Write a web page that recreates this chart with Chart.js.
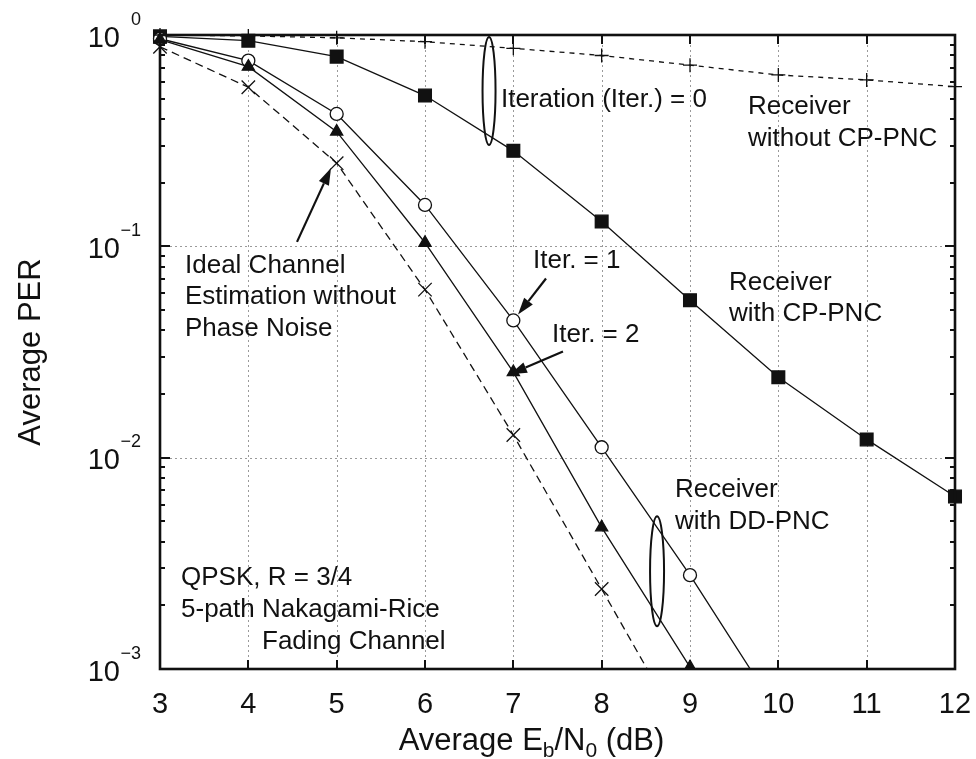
<!DOCTYPE html>
<html>
<head>
<meta charset="utf-8">
<title>Average PER vs Eb/N0</title>
<script src="https://cdn.jsdelivr.net/npm/chart.js@4.4.0/dist/chart.umd.min.js"></script>
<style>
  html, body { margin: 0; padding: 0; background: #ffffff; }
  canvas { display: block; }
</style>
</head>
<body>
<canvas id="chart" width="976" height="759"></canvas>
<script>
// Average Eb/N0 (dB)
const ebn0 = [3, 4, 5, 6, 7, 8, 9, 10, 11, 12];

// Average PER per receiver
const perWithoutCpPnc = [1.0, 0.99, 0.97, 0.93, 0.865, 0.80, 0.72, 0.647, 0.613, 0.57];
const perWithCpPnc    = [0.985, 0.94, 0.79, 0.517, 0.283, 0.131, 0.0556, 0.024, 0.0122, 0.00655];
const perDdIter1      = [0.96, 0.756, 0.423, 0.157, 0.0446, 0.0112, 0.00278, 0.00062];
const perDdIter2      = [0.95, 0.708, 0.349, 0.104, 0.0254, 0.00468, 0.00102];
const perIdeal        = [0.88, 0.566, 0.2475, 0.0624, 0.0128, 0.00239, 0.00044];

// Axis ticks
const xTickValues = [3, 4, 5, 6, 7, 8, 9, 10, 11, 12];
const yTickValues = [1, 0.1, 0.01, 0.001];
const yTickExponents = ['0', '\u22121', '\u22122', '\u22123'];

const FONT = "'Liberation Sans', Arial, Helvetica, sans-serif";

function toPoints(values) {
  return values.map((v, i) => ({ x: ebn0[i], y: v }));
}

// Callouts in data coordinates
const ellipses = [
  { x: 6.725, y: 0.544, rx: 6.5, ry: 54 },
  { x: 8.627, y: 0.0029, rx: 7, ry: 55 }
];
const arrows = [
  { from: [4.551, 0.105], to: [4.936, 0.235] },
  { from: [7.37, 0.0704], to: [7.053, 0.0476] },
  { from: [7.562, 0.0318], to: [6.962, 0.0248] }
];
const textBlocks = [
  { x: 6.86, y: 0.457, lines: ['Iteration (Iter.) = 0'] },
  { x: 9.657, y: 0.4233, lines: ['Receiver', 'without CP-PNC'] },
  { x: 9.442, y: 0.0624, lines: ['Receiver', 'with CP-PNC'] },
  { x: 8.83, y: 0.0065, lines: ['Receiver', 'with DD-PNC'] },
  { x: 7.223, y: 0.0793, lines: ['Iter. = 1'] },
  { x: 7.438, y: 0.0351, lines: ['Iter. = 2'] },
  { x: 3.283, y: 0.0751, lines: ['Ideal Channel', 'Estimation without', 'Phase Noise'] },
  { x: 3.238, y: 0.00249, lines: ['QPSK, R = 3/4', '5-path Nakagami-Rice'] },
  { x: 4.155, y: 0.00249, lines: ['', '', 'Fading Channel'] }
];

const framePlugin = {
  id: 'frame',
  beforeDatasetsDraw(chart) {
    const { ctx, chartArea: a, scales: { x, y } } = chart;
    ctx.save();
    ctx.strokeStyle = '#9a9a9a';
    ctx.lineWidth = 1;
    ctx.setLineDash([2, 3]);
    xTickValues.slice(1, -1).forEach(v => {
      const px = Math.round(x.getPixelForValue(v)) + 0.5;
      ctx.beginPath(); ctx.moveTo(px, a.top); ctx.lineTo(px, a.bottom); ctx.stroke();
    });
    yTickValues.slice(1, -1).forEach(v => {
      const py = Math.round(y.getPixelForValue(v)) + 0.5;
      ctx.beginPath(); ctx.moveTo(a.left, py); ctx.lineTo(a.right, py); ctx.stroke();
    });
    ctx.restore();
  },
  afterDatasetsDraw(chart) {
    const { ctx, chartArea: a, scales: { x, y } } = chart;
    ctx.save();
    ctx.strokeStyle = '#111';
    ctx.fillStyle = '#111';

    // tick marks
    ctx.lineWidth = 2;
    xTickValues.slice(1, -1).forEach(v => {
      const px = Math.round(x.getPixelForValue(v));
      ctx.beginPath();
      ctx.moveTo(px, a.bottom); ctx.lineTo(px, a.bottom - 9);
      ctx.moveTo(px, a.top); ctx.lineTo(px, a.top + 9);
      ctx.stroke();
    });
    for (let d = -3; d <= 0; d++) {
      for (let m = 1; m <= 9; m++) {
        const v = m * Math.pow(10, d);
        if (v >= 1 || (d === -3 && m === 1)) continue;
        const py = Math.round(y.getPixelForValue(v));
        const len = m === 1 ? 10 : 5;
        ctx.beginPath();
        ctx.moveTo(a.left, py); ctx.lineTo(a.left + len, py);
        ctx.moveTo(a.right, py); ctx.lineTo(a.right - len, py);
        ctx.stroke();
      }
    }

    // frame
    ctx.lineWidth = 2.6;
    ctx.strokeRect(a.left, a.top, a.right - a.left, a.bottom - a.top);

    // x tick labels
    ctx.font = '29px ' + FONT;
    ctx.textAlign = 'center';
    ctx.textBaseline = 'alphabetic';
    xTickValues.forEach(v => {
      ctx.fillText(String(v), x.getPixelForValue(v), a.bottom + 44);
    });

    // y tick labels 10^n
    yTickValues.forEach((v, i) => {
      const py = y.getPixelForValue(v) + 11.5;
      ctx.font = '29px ' + FONT;
      ctx.textAlign = 'right';
      ctx.fillText('10', a.left - 40, py);
      ctx.font = '18px ' + FONT;
      ctx.textAlign = 'right';
      ctx.fillText(yTickExponents[i], a.left - 19, py - 22);
    });

    // x axis title with subscripts
    const parts = [
      { t: 'Average E', sub: false },
      { t: 'b', sub: true },
      { t: '/N', sub: false },
      { t: '0', sub: true },
      { t: ' (dB)', sub: false }
    ];
    let total = 0;
    parts.forEach(p => {
      ctx.font = (p.sub ? '21px ' : '31px ') + FONT;
      p.w = ctx.measureText(p.t).width;
      total += p.w;
    });
    let cx = (a.left + a.right) / 2 - 26 - total / 2;
    ctx.textAlign = 'left';
    parts.forEach(p => {
      ctx.font = (p.sub ? '21px ' : '31px ') + FONT;
      ctx.fillText(p.t, cx, a.bottom + 81 + (p.sub ? 7 : 0));
      cx += p.w;
    });

    // y axis title
    ctx.save();
    ctx.translate(31, (a.top + a.bottom) / 2);
    ctx.rotate(-Math.PI / 2);
    ctx.font = '31px ' + FONT;
    ctx.textAlign = 'center';
    ctx.textBaseline = 'middle';
    ctx.fillText('Average PER', 0, 0);
    ctx.restore();

    // callout ellipses
    ctx.lineWidth = 2;
    ellipses.forEach(e => {
      ctx.beginPath();
      ctx.ellipse(x.getPixelForValue(e.x), y.getPixelForValue(e.y), e.rx, e.ry, 0, 0, Math.PI * 2);
      ctx.stroke();
    });

    // callout arrows
    arrows.forEach(ar => {
      const x1 = x.getPixelForValue(ar.from[0]), y1 = y.getPixelForValue(ar.from[1]);
      const x2 = x.getPixelForValue(ar.to[0]), y2 = y.getPixelForValue(ar.to[1]);
      const ang = Math.atan2(y2 - y1, x2 - x1);
      const L = 17, W = 5.5;
      const bx = x2 - L * Math.cos(ang), by = y2 - L * Math.sin(ang);
      ctx.lineWidth = 2.2;
      ctx.beginPath(); ctx.moveTo(x1, y1); ctx.lineTo(bx, by); ctx.stroke();
      ctx.beginPath();
      ctx.moveTo(x2, y2);
      ctx.lineTo(bx - W * Math.sin(ang), by + W * Math.cos(ang));
      ctx.lineTo(bx + W * Math.sin(ang), by - W * Math.cos(ang));
      ctx.closePath();
      ctx.fill();
    });

    // callout text
    ctx.font = '26px ' + FONT;
    ctx.textAlign = 'left';
    ctx.textBaseline = 'alphabetic';
    textBlocks.forEach(b => {
      const px = x.getPixelForValue(b.x), py = y.getPixelForValue(b.y);
      b.lines.forEach((ln, i) => { if (ln) ctx.fillText(ln, px, py + i * 31.8); });
    });

    ctx.restore();
  }
};

const lineBase = {
  borderColor: '#111',
  borderWidth: 1.3,
  pointBorderColor: '#111',
  pointBorderWidth: 1.3,
  tension: 0,
  clip: { left: 16, top: 16, right: 16, bottom: 0 }
};

new Chart(document.getElementById('chart'), {
  type: 'line',
  data: {
    datasets: [
      Object.assign({}, lineBase, {
        label: 'Receiver without CP-PNC',
        data: toPoints(perWithoutCpPnc),
        borderDash: [5, 5],
        pointStyle: 'cross', pointRadius: 7
      }),
      Object.assign({}, lineBase, {
        label: 'Ideal channel estimation without phase noise',
        data: toPoints(perIdeal),
        borderDash: [8, 5],
        pointStyle: 'crossRot', pointRadius: 9.5
      }),
      Object.assign({}, lineBase, {
        label: 'Receiver with DD-PNC, Iter. = 2',
        data: toPoints(perDdIter2),
        pointStyle: 'triangle', pointRadius: 7,
        pointBackgroundColor: '#111'
      }),
      Object.assign({}, lineBase, {
        label: 'Receiver with DD-PNC, Iter. = 1',
        data: toPoints(perDdIter1),
        pointStyle: 'circle', pointRadius: 6.5,
        pointBackgroundColor: '#ffffff'
      }),
      Object.assign({}, lineBase, {
        label: 'Receiver with CP-PNC',
        data: toPoints(perWithCpPnc),
        pointStyle: 'rect', pointRadius: 9,
        pointBackgroundColor: '#111'
      })
    ]
  },
  options: {
    responsive: false,
    animation: false,
    events: [],
    layout: { padding: { top: 35, right: 21, left: 0, bottom: 0 } },
    plugins: { legend: { display: false }, tooltip: { enabled: false } },
    scales: {
      x: {
        type: 'linear', min: 3, max: 12,
        grid: { display: false }, border: { display: false },
        ticks: { display: false },
        afterFit(s) { s.height = 90; }
      },
      y: {
        type: 'logarithmic', min: 0.001, max: 1,
        grid: { display: false }, border: { display: false },
        ticks: { display: false },
        afterFit(s) { s.width = 160; }
      }
    }
  },
  plugins: [framePlugin]
});
</script>
</body>
</html>
